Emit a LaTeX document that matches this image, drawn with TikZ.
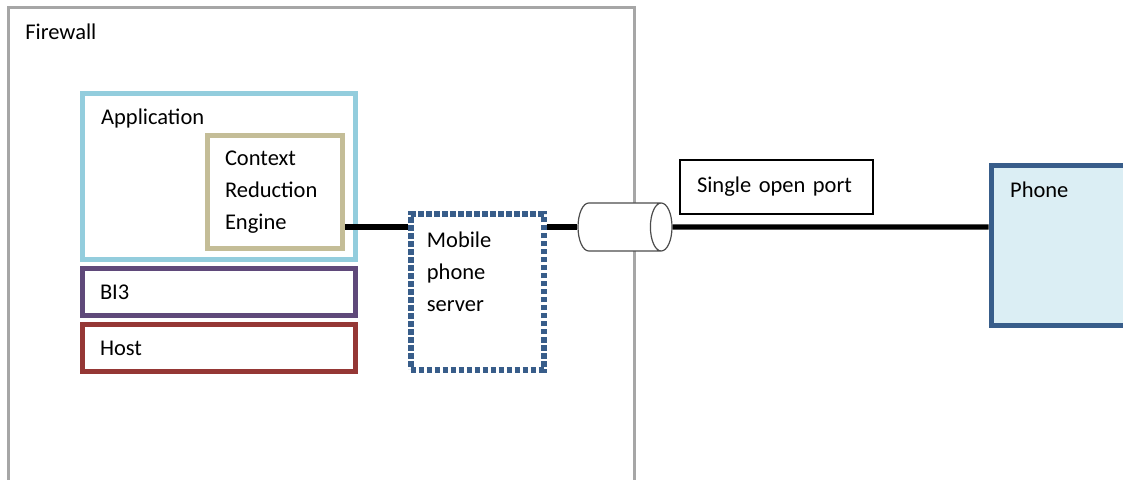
\documentclass[tikz,border=0pt]{standalone}
\usepackage{fontspec}
\setmainfont{Carlito}
\usetikzlibrary{shapes.geometric, calc}
\definecolor{cgrey}{HTML}{A6A6A6}
\definecolor{caqua}{HTML}{93CDDD}
\definecolor{ctan}{HTML}{C4BD97}
\definecolor{cpurple}{HTML}{5F497A}
\definecolor{cred}{HTML}{953735}
\definecolor{cnavy}{HTML}{385D8A}
\definecolor{cpale}{HTML}{DBEEF4}
\tikzset{
  every picture/.style={x=0.5pt, y=-0.5pt},
  every node/.style={font=\fontsize{11.25}{16}\selectfont},
  box/.style={draw=#1, line width=2.8pt, inner sep=0pt},
  inbox/.style={box=#1, align=left, inner xsep=8.75pt, text width=119pt},
  tag/.style={anchor=west, inner sep=0pt, align=left},
  wire/.style={draw=black, line width=2.6pt},
}

\begin{document}
\begin{tikzpicture}
  \clip (0,0) rectangle (1123,480);

  % firewall
  \node[box=cgrey, line width=1.5pt, minimum width=312.8pt, minimum height=270pt] (fw) at (321.2,277.5) {};
  \node[tag] (fwlabel) at ($(fw.north west)+(18,26)$) {Firewall};

  % application stack
  \node[box=caqua, minimum width=136.5pt, minimum height=83pt] (app) at (219,176.5) {};
  \node[tag] (applabel) at ($(app.north west)+(21,27.5)$) {Application};
  \node[inbox=ctan, text width=50pt, minimum height=56.5pt] (cre) at (275,192) {Context\\Reduction\\Engine};
  \node[inbox=cpurple, minimum width=136.5pt, minimum height=23.5pt] (bi) at (219,292) {BI3};
  \node[inbox=cred, minimum width=136.5pt, minimum height=23.5pt] (host) at (219,348) {Host};

  % mobile phone server
  \node[box=cnavy, line width=3pt, dash pattern=on 2.6pt off 1.4pt, minimum width=66.5pt, minimum height=77.5pt] (mps) at (477,292) {};
  \node[tag] (mpslabel) at ($(mps.north west)+(19,60)$) {Mobile\\phone\\server};

  % port
  \node[shape=cylinder, draw=black!70, line width=0.6pt, fill=white, aspect=0.45, inner xsep=0pt, inner ysep=12pt, minimum width=24pt, minimum height=47pt, anchor=shape center] (port) at (625,227) {};
  \node[draw, line width=0.6pt, minimum width=96.5pt, minimum height=27pt, align=left, inner xsep=8.5pt, text width=79.5pt] (sop) at (776.5,187) {Single open port};

  % phone
  \node[box=cnavy, fill=cpale, minimum width=100pt, minimum height=80pt] (phone) at (1091.5,245.5) {};
  \node[tag] (phonelabel) at ($(phone.north west)+(21,27)$) {Phone};

  \draw[wire] (cre.east |- port) -- (mps.west |- port);
  \draw[wire] (mps.east |- port) -- (port.west);
  \draw[wire] (port.east) -- (phone.west |- port);
\end{tikzpicture}
\end{document}
